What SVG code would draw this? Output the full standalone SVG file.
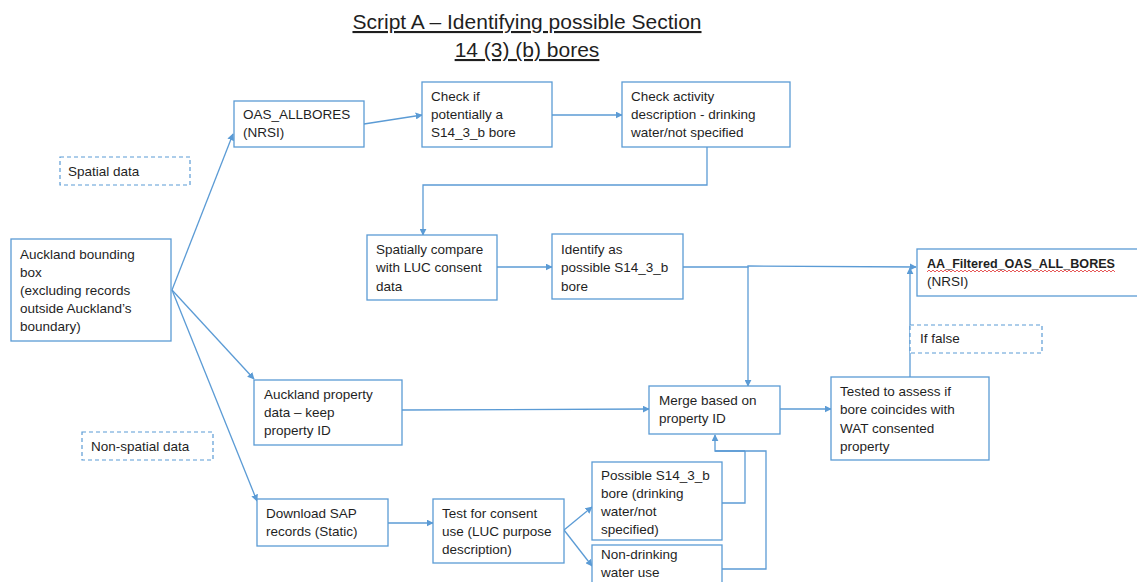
<svg xmlns="http://www.w3.org/2000/svg" width="1137" height="582" viewBox="0 0 1137 582">
<defs>
<marker id="ah" viewBox="0 0 10 10" refX="9" refY="5" markerWidth="7" markerHeight="7" orient="auto-start-reverse" markerUnits="userSpaceOnUse">
<path d="M0,0 L10,5 L0,10 z" fill="#5b9bd5"/>
</marker>
<pattern id="wave" x="927" y="269" width="4" height="4" patternUnits="userSpaceOnUse">
<path d="M0,3 L2,1 L4,3" fill="none" stroke="#e03030" stroke-width="0.8"/>
</pattern>
<style>
.box{fill:#fff;stroke:#5b9bd5;stroke-width:1.3}
.dash{fill:#fff;stroke:#5b9bd5;stroke-width:1.2;stroke-dasharray:4 3}
.t{font-family:"Liberation Sans",Arial,sans-serif;font-size:13.5px;fill:#1f1f1f}
.title{font-family:"Liberation Sans",Arial,sans-serif;font-size:21px;fill:#1f1f1f;text-decoration:underline}
.c{fill:none;stroke:#5b9bd5;stroke-width:1.3}
.ca{fill:none;stroke:#5b9bd5;stroke-width:1.3;marker-end:url(#ah)}
</style>
</defs>
<rect width="1137" height="582" fill="#fff"/>
<g id="title">
<text class="title" x="527" y="29" text-anchor="middle">Script A – Identifying possible Section</text>
<text class="title" x="527" y="57" text-anchor="middle">14 (3) (b) bores</text>
</g>
<g id="connectors">
<line class="ca" x1="172" y1="290" x2="233" y2="134"/>
<line class="ca" x1="172" y1="290" x2="254" y2="379"/>
<line class="ca" x1="172" y1="290" x2="257" y2="501"/>
<line class="ca" x1="364" y1="124" x2="422" y2="115"/>
<line class="ca" x1="552" y1="115" x2="622" y2="115"/>
<polyline class="ca" points="707,147 707,185 423,185 423,235"/>
<line class="ca" x1="497" y1="267" x2="552" y2="267"/>
<polyline class="ca" points="683,267 748,267 748,266 916,267"/>
<polyline class="ca" points="748,267 748,386"/>
<polyline class="ca" points="910,377 910,268"/>
<line class="ca" x1="402" y1="410" x2="649" y2="409"/>
<line class="ca" x1="780" y1="409" x2="831" y2="409"/>
<line class="ca" x1="388" y1="523" x2="433" y2="523"/>
<line class="ca" x1="564" y1="530" x2="592" y2="507"/>
<line class="ca" x1="564" y1="530" x2="592" y2="566"/>
<polyline class="c" points="722,503 745,503 745,451"/>
<polyline class="c" points="722,569 766,569 766,451 715,451"/>
<polyline class="ca" points="745,451 715,451 715,435"/>
</g>
<g id="spatial-data"><rect class="dash" x="60" y="157" width="130" height="28"/><text class="t" x="68" y="176">Spatial data</text></g>
<g id="non-spatial-data"><rect class="dash" x="82" y="432" width="131" height="28"/><text class="t" x="91" y="451">Non-spatial data</text></g>
<g id="if-false"><rect class="dash" x="910" y="325" width="132" height="28"/><text class="t" x="920" y="343">If false</text></g>
<g id="auckland-bbox"><rect class="box" x="11" y="239" width="160" height="102"/>
<text class="t" x="20" y="259">Auckland bounding</text><text class="t" x="20" y="277">box</text><text class="t" x="20" y="295">(excluding records</text><text class="t" x="20" y="313">outside Auckland’s</text><text class="t" x="20" y="331">boundary)</text></g>
<g id="oas-allbores"><rect class="box" x="234" y="101" width="130" height="46"/>
<text class="t" x="243" y="119">OAS_ALLBORES</text><text class="t" x="243" y="137">(NRSI)</text></g>
<g id="check-if"><rect class="box" x="422" y="82" width="130" height="65"/>
<text class="t" x="431" y="101">Check if</text><text class="t" x="431" y="119">potentially a</text><text class="t" x="431" y="137">S14_3_b bore</text></g>
<g id="check-activity"><rect class="box" x="622" y="82" width="168" height="65"/>
<text class="t" x="631" y="101">Check activity</text><text class="t" x="631" y="119">description - drinking</text><text class="t" x="631" y="137">water/not specified</text></g>
<g id="spatially-compare"><rect class="box" x="367" y="235" width="130" height="65"/>
<text class="t" x="376" y="254">Spatially compare</text><text class="t" x="376" y="272">with LUC consent</text><text class="t" x="376" y="291">data</text></g>
<g id="identify"><rect class="box" x="552" y="234" width="131" height="65"/>
<text class="t" x="561" y="254">Identify as</text><text class="t" x="561" y="272">possible S14_3_b</text><text class="t" x="561" y="291">bore</text></g>
<g id="aa-filtered"><rect class="box" x="917" y="249" width="225" height="47"/>
<text class="t" x="927" y="268" font-weight="bold" textLength="188" lengthAdjust="spacingAndGlyphs">AA_Filtered_OAS_ALL_BORES</text>
<rect x="927" y="269" width="188" height="4" fill="url(#wave)"/>
<text class="t" x="927" y="286">(NRSI)</text></g>
<g id="auckland-property"><rect class="box" x="254" y="380" width="148" height="65"/>
<text class="t" x="264" y="399">Auckland property</text><text class="t" x="264" y="417">data – keep</text><text class="t" x="264" y="435">property ID</text></g>
<g id="merge"><rect class="box" x="649" y="386" width="131" height="48"/>
<text class="t" x="659" y="405">Merge based on</text><text class="t" x="659" y="423">property ID</text></g>
<g id="tested"><rect class="box" x="831" y="377" width="158" height="83"/>
<text class="t" x="840" y="396">Tested to assess if</text><text class="t" x="840" y="414">bore coincides with</text><text class="t" x="840" y="433">WAT consented</text><text class="t" x="840" y="451">property</text></g>
<g id="download-sap"><rect class="box" x="257" y="499" width="131" height="47"/>
<text class="t" x="266" y="518">Download SAP</text><text class="t" x="266" y="536">records (Static)</text></g>
<g id="test-consent"><rect class="box" x="433" y="499" width="131" height="64"/>
<text class="t" x="442" y="518">Test for consent</text><text class="t" x="442" y="536">use (LUC purpose</text><text class="t" x="442" y="554">description)</text></g>
<g id="possible"><rect class="box" x="592" y="462" width="130" height="78"/>
<text class="t" x="601" y="480">Possible S14_3_b</text><text class="t" x="601" y="498">bore (drinking</text><text class="t" x="601" y="516">water/not</text><text class="t" x="601" y="534">specified)</text></g>
<g id="non-drinking"><rect class="box" x="592" y="545" width="130" height="45"/>
<text class="t" x="601" y="559">Non-drinking</text><text class="t" x="601" y="577">water use</text></g>
</svg>
